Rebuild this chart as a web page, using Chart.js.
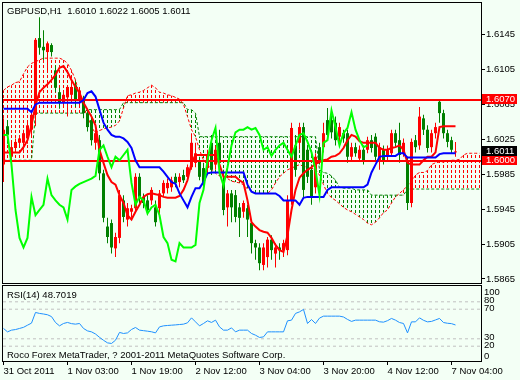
<!DOCTYPE html>
<html>
<head>
<meta charset="utf-8">
<script src="https://cdn.jsdelivr.net/npm/chart.js@4.4.1/dist/chart.umd.min.js"></script>
<style>
  html, body { margin: 0; padding: 0; background: #f3fff5; }
  #wrap { position: relative; width: 520px; height: 380px; background: #f3fff5; overflow: hidden; }
  canvas { position: absolute; left: 0; }
  #main { top: 0; width: 520px; height: 284px; }
  #rsi { top: 284px; width: 520px; height: 96px; }
</style>
</head>
<body>
<div id="wrap">
  <canvas id="main" width="520" height="284"></canvas>
  <canvas id="rsi" width="520" height="96"></canvas>
</div>
<script>
const FONT = "'Liberation Sans', Arial, sans-serif";
const BULL = "#ff0000";
const BEAR = "#008000";

const symbolTitle = "GBPUSD,H1  1.6010 1.6022 1.6005 1.6011";
const rsiTitle = "RSI(14) 48.7019";
const copyright = "Roco Forex MetaTrader, ? 2001-2011 MetaQuotes Software Corp.";

// time axis (bar index of each label)
const timeLabels = ["31 Oct 2011", "1 Nov 03:00", "1 Nov 19:00", "2 Nov 12:00", "3 Nov 04:00", "3 Nov 20:00", "4 Nov 12:00", "7 Nov 04:00"];
const timeLabelBars = [0, 16, 32, 48, 64, 80, 96, 112];

const priceTicks = [1.5865, 1.5905, 1.5945, 1.5985, 1.6025, 1.6065, 1.6105, 1.6145];
const priceLevels = [1.6070, 1.6000];
const lastPrice = 1.6011;

const rsiLevels = [20, 30, 70, 80];
const rsiTicks = [0, 20, 30, 70, 80, 100];

// H1 candles
const opens = [
	1.5996, 1.6040, 1.6005, 1.6015, 1.6021, 1.6021, 1.6026, 1.6036, 1.6053, 1.6141,
	1.6131, 1.6125, 1.6133, 1.6104, 1.6079, 1.6067, 1.6073, 1.6076, 1.6087, 1.6070,
	1.6070, 1.6055, 1.6047, 1.6021, 1.6024, 1.5986, 1.5925, 1.5929, 1.5900, 1.5912,
	1.5955, 1.5933, 1.5942, 1.5946, 1.5982, 1.5959, 1.5955, 1.5955, 1.5947, 1.5946,
	1.5963, 1.5969, 1.5970, 1.5982, 1.5976, 1.5984, 1.5982, 1.5993, 1.5998, 1.6001,
	1.5992, 1.5992, 1.6021, 1.5996, 1.6021, 1.5976, 1.5947, 1.5963, 1.5961, 1.5947,
	1.5942, 1.5946, 1.5929, 1.5906, 1.5901, 1.5881, 1.5890, 1.5910, 1.5894, 1.5901,
	1.5898, 1.5898, 1.5955, 1.6018, 1.6021, 1.6039, 1.6013, 1.5990, 1.5970, 1.6016,
	1.6016, 1.6047, 1.6047, 1.6044, 1.6028, 1.6032, 1.6032, 1.6005, 1.6016, 1.6003,
	1.6013, 1.6013, 1.6024, 1.6028, 1.6001, 1.6013, 1.6005, 1.6009, 1.6032, 1.6024,
	1.6009, 1.6001, 1.5952, 1.6024, 1.6018, 1.6049, 1.6036, 1.6016, 1.6032, 1.6068,
	1.6055, 1.6032, 1.6024, 1.6010
];
const highs = [
	1.6049, 1.6047, 1.6021, 1.6026, 1.6030, 1.6036, 1.6045, 1.6058, 1.6141, 1.6165,
	1.6150, 1.6137, 1.6135, 1.6110, 1.6084, 1.6081, 1.6087, 1.6090, 1.6092, 1.6085,
	1.6075, 1.6060, 1.6053, 1.6036, 1.6030, 1.5990, 1.5935, 1.5933, 1.5918, 1.5967,
	1.5961, 1.5952, 1.5950, 1.5986, 1.5986, 1.5963, 1.5961, 1.5970, 1.5955, 1.5967,
	1.5978, 1.5980, 1.5982, 1.5986, 1.5986, 1.5990, 1.5996, 1.6032, 1.6021, 1.6005,
	1.5998, 1.6013, 1.6030, 1.6018, 1.6036, 1.5990, 1.5967, 1.5967, 1.5967, 1.5952,
	1.5955, 1.5950, 1.5933, 1.5910, 1.5906, 1.5906, 1.5913, 1.5915, 1.5906, 1.5906,
	1.5910, 1.5961, 1.6044, 1.6030, 1.6044, 1.6044, 1.6018, 1.5996, 1.6009, 1.6021,
	1.6044, 1.6061, 1.6055, 1.6051, 1.6044, 1.6036, 1.6036, 1.6021, 1.6021, 1.6018,
	1.6018, 1.6028, 1.6030, 1.6032, 1.6021, 1.6018, 1.6018, 1.6036, 1.6036, 1.6044,
	1.6026, 1.6005, 1.6026, 1.6030, 1.6062, 1.6053, 1.6041, 1.6036, 1.6044, 1.6071,
	1.6059, 1.6036, 1.6028, 1.6022
];
const lows = [
	1.5976, 1.6020, 1.5998, 1.6010, 1.6016, 1.6013, 1.6020, 1.6030, 1.6040, 1.6122,
	1.6116, 1.6104, 1.6120, 1.6079, 1.6060, 1.6062, 1.6051, 1.6070, 1.6062, 1.6062,
	1.6049, 1.6034, 1.6018, 1.6013, 1.5978, 1.5930, 1.5906, 1.5894, 1.5890, 1.5906,
	1.5930, 1.5925, 1.5935, 1.5942, 1.5952, 1.5946, 1.5938, 1.5950, 1.5925, 1.5938,
	1.5959, 1.5963, 1.5965, 1.5970, 1.5970, 1.5975, 1.5978, 1.5990, 1.5993, 1.5978,
	1.5970, 1.5986, 1.5984, 1.5990, 1.5993, 1.5938, 1.5925, 1.5930, 1.5930, 1.5913,
	1.5935, 1.5913, 1.5894, 1.5887, 1.5875, 1.5875, 1.5878, 1.5887, 1.5878, 1.5887,
	1.5890, 1.5892, 1.5950, 1.5982, 1.6013, 1.5959, 1.5975, 1.5950, 1.5963, 1.5996,
	1.6010, 1.6024, 1.6026, 1.6018, 1.6021, 1.6021, 1.5998, 1.6001, 1.6005, 1.5999,
	1.5996, 1.6009, 1.6010, 1.5999, 1.5990, 1.5996, 1.6001, 1.6005, 1.6016, 1.5998,
	1.6005, 1.5944, 1.5947, 1.6010, 1.6013, 1.6030, 1.6010, 1.6010, 1.6026, 1.6044,
	1.6026, 1.6016, 1.6009, 1.6005
];
const closes = [
	1.6036, 1.6030, 1.6016, 1.6022, 1.6026, 1.6032, 1.6041, 1.6053, 1.6139, 1.6130,
	1.6127, 1.6135, 1.6125, 1.6084, 1.6067, 1.6076, 1.6085, 1.6085, 1.6070, 1.6081,
	1.6055, 1.6039, 1.6024, 1.6032, 1.5986, 1.5935, 1.5913, 1.5901, 1.5913, 1.5961,
	1.5936, 1.5946, 1.5946, 1.5982, 1.5959, 1.5952, 1.5944, 1.5967, 1.5930, 1.5963,
	1.5975, 1.5975, 1.5978, 1.5975, 1.5982, 1.5978, 1.5993, 1.6021, 1.6009, 1.5982,
	1.5975, 1.6007, 1.5990, 1.6013, 1.5998, 1.5944, 1.5963, 1.5947, 1.5936, 1.5935,
	1.5952, 1.5933, 1.5906, 1.5901, 1.5883, 1.5901, 1.5910, 1.5898, 1.5901, 1.5898,
	1.5906, 1.5955, 1.6038, 1.5990, 1.6039, 1.5967, 1.5982, 1.5959, 1.6005, 1.6001,
	1.6032, 1.6030, 1.6033, 1.6024, 1.6039, 1.6026, 1.6005, 1.6016, 1.6009, 1.6013,
	1.6001, 1.6024, 1.6015, 1.6005, 1.6016, 1.6001, 1.6013, 1.6032, 1.6021, 1.6007,
	1.6021, 1.5952, 1.6022, 1.6016, 1.6051, 1.6036, 1.6015, 1.6032, 1.6039, 1.6055,
	1.6032, 1.6022, 1.6013, 1.6011
];

// Ichimoku lines
const tenkan = [
	1.6010, 1.6010, 1.6010, 1.6010, 1.6010, 1.6016, 1.6024, 1.6041, 1.6064, 1.6079,
	1.6084, 1.6088, 1.6093, 1.6099, 1.6107, 1.6109, 1.6102, 1.6093, 1.6085, 1.6078,
	1.6067, 1.6059, 1.6051, 1.6041, 1.6013, 1.5998, 1.5984, 1.5976, 1.5973, 1.5961,
	1.5952, 1.5938, 1.5933, 1.5942, 1.5950, 1.5959, 1.5962, 1.5963, 1.5962, 1.5961,
	1.5959, 1.5958, 1.5958, 1.5958, 1.5960, 1.5967, 1.5978, 1.5998, 1.6007, 1.6007,
	1.6007, 1.6007, 1.6007, 1.6007, 1.5996, 1.5982, 1.5982, 1.5982, 1.5982, 1.5978,
	1.5975, 1.5955, 1.5930, 1.5925, 1.5921, 1.5919, 1.5918, 1.5912, 1.5904, 1.5898,
	1.5896, 1.5915, 1.5944, 1.5967, 1.5981, 1.5986, 1.5990, 1.5993, 1.5997, 1.5999,
	1.6001, 1.6002, 1.6005, 1.6006, 1.6009, 1.6015, 1.6024, 1.6030, 1.6028, 1.6023,
	1.6021, 1.6021, 1.6021, 1.6021, 1.6015, 1.6013, 1.6013, 1.6015, 1.6016, 1.6018,
	1.6013, 1.5998, 1.5996, 1.5996, 1.5996, 1.6001, 1.6005, 1.6005, 1.6010, 1.6039,
	1.6040, 1.6040, 1.6040, 1.6040
];
const kijun = [
	1.6060, 1.6060, 1.6060, 1.6060, 1.6060, 1.6060, 1.6060, 1.6056, 1.6065, 1.6067,
	1.6067, 1.6067, 1.6067, 1.6067, 1.6067, 1.6067, 1.6067, 1.6067, 1.6067, 1.6067,
	1.6070, 1.6078, 1.6080, 1.6074, 1.6059, 1.6044, 1.6036, 1.6030, 1.6028, 1.6028,
	1.6026, 1.6022, 1.6015, 1.6001, 1.5993, 1.5993, 1.5993, 1.5993, 1.5993, 1.5993,
	1.5988, 1.5982, 1.5976, 1.5974, 1.5963, 1.5955, 1.5947, 1.5959, 1.5969, 1.5969,
	1.5976, 1.5986, 1.5987, 1.5987, 1.5987, 1.5987, 1.5987, 1.5987, 1.5987, 1.5987,
	1.5987, 1.5973, 1.5965, 1.5963, 1.5963, 1.5963, 1.5963, 1.5963, 1.5963, 1.5960,
	1.5955, 1.5955, 1.5955, 1.5955, 1.5950, 1.5958, 1.5959, 1.5959, 1.5959, 1.5959,
	1.5959, 1.5967, 1.5970, 1.5970, 1.5970, 1.5970, 1.5970, 1.5970, 1.5970, 1.5970,
	1.5970, 1.5973, 1.5987, 1.5996, 1.6005, 1.6006, 1.6006, 1.6006, 1.6006, 1.6009,
	1.6009, 1.6004, 1.6004, 1.6004, 1.6004, 1.6004, 1.6004, 1.6004, 1.6004, 1.6008,
	1.6009, 1.6009, 1.6009, 1.6009
];
const chikou = [
	1.6030, 1.6030, 1.5996, 1.5944, 1.5912, 1.5901, 1.5912, 1.5959, 1.5938, 1.5944,
	1.5950, 1.5980, 1.5961, 1.5955, 1.5950, 1.5947, 1.5933, 1.5967, 1.5971, 1.5974,
	1.5976, 1.5978, 1.5980, 1.5983, 1.6013, 1.6018, 1.6005, 1.5993, 1.6005, 1.6001,
	1.6007, 1.6013, 1.5975, 1.5950, 1.5959, 1.5955, 1.5940, 1.5947, 1.5950, 1.5938,
	1.5913, 1.5906, 1.5887, 1.5885, 1.5906, 1.5901, 1.5901, 1.5901, 1.5904, 1.5952,
	1.5967, 1.6001, 1.6024, 1.6038, 1.5987, 1.5972, 1.5993, 1.6018, 1.6033, 1.6036,
	1.6036, 1.6039, 1.6036, 1.6038, 1.6030, 1.6013, 1.6016, 1.6006, 1.6013, 1.6018,
	1.6021, 1.6013, 1.6005, 1.6018, 1.6030, 1.6032, 1.6022, 1.6010, 1.5990, 1.5961,
	1.6021, 1.6024, 1.6058, 1.6039, 1.6018, 1.6032, 1.6038, 1.6056, 1.6036, 1.6024,
	1.6016, 1.6018
];
const spanA = [
	1.6081, 1.6085, 1.6087, 1.6090, 1.6091, 1.6100, 1.6108, 1.6112, 1.6114, 1.6116,
	1.6118, 1.6118, 1.6118, 1.6118, 1.6118, 1.6116, 1.6112, 1.6104, 1.6093, 1.6076,
	1.6062, 1.6051, 1.6039, 1.6032, 1.6035, 1.6037, 1.6038, 1.6039, 1.6041, 1.6046,
	1.6061, 1.6075, 1.6076, 1.6078, 1.6079, 1.6081, 1.6084, 1.6087, 1.6084, 1.6079,
	1.6078, 1.6076, 1.6075, 1.6073, 1.6071, 1.6065, 1.6051, 1.6036, 1.6028, 1.6013,
	1.6001, 1.5996, 1.5990, 1.5986, 1.5983, 1.5982, 1.5980, 1.5977, 1.5976, 1.5975,
	1.5973, 1.5968, 1.5966, 1.5963, 1.5963, 1.5963, 1.5963, 1.5967, 1.5975, 1.5982,
	1.5986, 1.5990, 1.5992, 1.5994, 1.5996, 1.5994, 1.5993, 1.5992, 1.5990, 1.5984,
	1.5973, 1.5963, 1.5958, 1.5955, 1.5951, 1.5947, 1.5944, 1.5942, 1.5939, 1.5936,
	1.5933, 1.5929, 1.5927, 1.5930, 1.5935, 1.5941, 1.5944, 1.5952, 1.5959, 1.5963,
	1.5967, 1.5972, 1.5976, 1.5984, 1.5987, 1.5987, 1.5989, 1.5996, 1.5998, 1.5999,
	1.5999, 1.6000, 1.6001, 1.6001, 1.6002, 1.6007, 1.6009, 1.6009, 1.6009, 1.6009
];
const spanB = [
	1.6001, 1.6001, 1.6001, 1.6001, 1.6001, 1.6001, 1.6001, 1.6001, 1.6055, 1.6055,
	1.6055, 1.6055, 1.6055, 1.6055, 1.6055, 1.6055, 1.6055, 1.6055, 1.6055, 1.6055,
	1.6055, 1.6059, 1.6059, 1.6059, 1.6059, 1.6059, 1.6059, 1.6059, 1.6059, 1.6059,
	1.6067, 1.6067, 1.6067, 1.6067, 1.6067, 1.6067, 1.6067, 1.6067, 1.6067, 1.6067,
	1.6067, 1.6067, 1.6067, 1.6067, 1.6067, 1.6067, 1.6059, 1.6059, 1.6055, 1.6028,
	1.6028, 1.6028, 1.6028, 1.6028, 1.6028, 1.6028, 1.6028, 1.6028, 1.6028, 1.6028,
	1.6028, 1.6028, 1.6028, 1.6028, 1.6028, 1.6028, 1.6028, 1.6028, 1.6028, 1.6028,
	1.6028, 1.6028, 1.6028, 1.6028, 1.6028, 1.6028, 1.6028, 1.6028, 1.6028, 1.5990,
	1.5987, 1.5986, 1.5983, 1.5978, 1.5970, 1.5969, 1.5969, 1.5969, 1.5967, 1.5967,
	1.5967, 1.5967, 1.5961, 1.5961, 1.5961, 1.5961, 1.5961, 1.5961, 1.5961, 1.5961,
	1.5961, 1.5968, 1.5968, 1.5968, 1.5968, 1.5968, 1.5968, 1.5968, 1.5968, 1.5968,
	1.5968, 1.5968, 1.5968, 1.5968, 1.5968, 1.5968, 1.5968, 1.5968, 1.5968, 1.5968
];

const rsi = [
	44.0, 39.4, 41.7, 42.5, 44.0, 45.5, 48.4, 51.2, 65.6, 64.3,
	63.5, 62.5, 60.0, 52.0, 47.5, 50.7, 52.1, 50.5, 49.8, 50.7,
	44.0, 40.7, 39.4, 36.5, 32.0, 28.0, 24.5, 23.7, 28.1, 38.6,
	37.2, 38.0, 42.6, 45.3, 41.7, 41.0, 40.3, 39.5, 38.0, 46.1,
	47.5, 48.0, 48.4, 48.8, 49.3, 49.8, 51.6, 58.3, 52.9, 47.5,
	50.7, 54.3, 52.1, 55.2, 46.1, 41.7, 41.7, 44.8, 39.4, 41.7,
	41.7, 41.7, 37.2, 34.9, 31.8, 32.6, 39.4, 39.4, 39.4, 39.4,
	39.4, 54.3, 55.2, 64.3, 66.4, 69.7, 50.7, 56.0, 50.7, 58.0,
	60.6, 60.6, 60.6, 60.6, 60.6, 59.5, 56.2, 53.5, 55.2, 55.2,
	55.2, 55.2, 55.2, 55.2, 53.0, 52.5, 54.5, 57.5, 55.2, 52.0,
	50.7, 38.0, 52.9, 52.9, 58.3, 55.0, 52.9, 53.5, 55.5, 57.5,
	52.0, 51.0, 50.5, 48.7019
];

// visible bar range (a little empty space after the last bar)
const xMin = -0.125;
const xMax = 119.375;

const series = (arr) => arr.map((v, i) => ({ x: i, y: v }));
const flat = (v) => [{ x: xMin, y: v }, { x: xMax, y: v }];
const candleColors = closes.map((c, i) => (c >= opens[i] ? BULL : BEAR));

const mainCanvas = document.getElementById("main");
const mainCtx = mainCanvas.getContext("2d");

// dotted vertical strokes, like the MT4 histogram of the cloud
const dotted = (color) => {
	const tile = document.createElement("canvas");
	tile.width = 1;
	tile.height = 5;
	const g = tile.getContext("2d");
	g.fillStyle = color;
	g.fillRect(0, 0, 1, 3);
	return mainCtx.createPattern(tile, "repeat");
};
const redDots = dotted(BULL);
const greenDots = dotted(BEAR);
const cloudColors = spanA.map((a, i) => (a >= spanB[i] ? redDots : greenDots));

const mainDecor = {
	id: "mainDecor",
	afterDraw(chart) {
		const ctx = chart.ctx;
		const yScale = chart.scales.y;
		ctx.save();
		ctx.strokeStyle = "#000";
		ctx.lineWidth = 1;
		ctx.strokeRect(2.5, 2.5, 479, 281);

		ctx.font = `9.5px ${FONT}`;
		ctx.textBaseline = "middle";
		ctx.textAlign = "left";
		ctx.fillStyle = "#000";
		ctx.fillText(symbolTitle, 7, 11);

		const priceBox = (v, bg) => {
			const py = Math.round(yScale.getPixelForValue(v));
			ctx.fillStyle = bg;
			ctx.fillRect(482, py - 6, 35, 10);
			ctx.fillStyle = "#fff";
			ctx.fillText(v.toFixed(4), 486, py - 1);
		};
		priceLevels.forEach((v) => priceBox(v, "#ff0000"));
		priceBox(lastPrice, "#000");
		ctx.restore();
	},
};

const lineSet = (label, data, color, width, order) => ({
	type: "line",
	label: label,
	data: data,
	borderColor: color,
	borderWidth: width,
	pointRadius: 0,
	tension: 0,
	fill: false,
	order: order,
});

const levelSets = priceLevels.map((v) => lineSet("level", flat(v), "#ff0000", 2, 6));

new Chart(mainCanvas, {
	type: "bar",
	data: {
		datasets: [
			{
				type: "bar",
				label: "cloud",
				data: spanA.map((a, i) => ({ x: i, y: [a, spanB[i]] })),
				backgroundColor: cloudColors,
				barThickness: 1,
				grouped: false,
				inflateAmount: 0,
				order: 11,
			},
			{
				...lineSet("Senkou Span A", series(spanA), BULL, 1, 10),
				borderDash: [3, 2],
			},
			{
				...lineSet("Senkou Span B", series(spanB), BEAR, 1, 10),
				borderDash: [3, 2],
			},
			{
				type: "bar",
				label: "wicks",
				data: lows.map((l, i) => ({ x: i, y: [l, highs[i]] })),
				backgroundColor: candleColors,
				barThickness: 1,
				grouped: false,
				inflateAmount: 0,
				order: 8,
			},
			{
				type: "bar",
				label: "bodies",
				data: opens.map((o, i) => ({ x: i, y: [o, closes[i]] })),
				backgroundColor: candleColors,
				barThickness: 3,
				minBarLength: 1,
				grouped: false,
				inflateAmount: 0,
				order: 7,
			},
			...levelSets,
			lineSet("Tenkan-sen", series(tenkan), "#ff0000", 2, 4),
			lineSet("Kijun-sen", series(kijun), "#0000ff", 2, 3),
			lineSet("Chikou Span", series(chikou), "#00ff00", 2, 2),
		],
	},
	options: {
		responsive: false,
		animation: false,
		devicePixelRatio: 1,
		events: [],
		layout: { padding: { left: 3, top: 3, right: 0, bottom: 2 } },
		plugins: { legend: { display: false }, tooltip: { enabled: false } },
		scales: {
			x: { type: "linear", min: xMin, max: xMax, offset: false, display: false },
			y: {
				position: "right",
				min: 1.586145,
				max: 1.618122,
				afterBuildTicks: (s) => {
					s.ticks = priceTicks.map((v) => ({ value: v }));
				},
				afterFit: (s) => {
					s.width = 39;
					s.paddingTop = 0;
					s.paddingBottom = 0;
				},
				grid: { drawOnChartArea: false, drawTicks: true, tickLength: 4, tickColor: "#000" },
				border: { display: false },
				ticks: {
					padding: 1,
					color: "#000",
					font: { family: FONT, size: 9.5 },
					callback: (v) => Number(v).toFixed(4),
				},
			},
		},
	},
	plugins: [mainDecor],
});

const rsiDecor = {
	id: "rsiDecor",
	afterDraw(chart) {
		const ctx = chart.ctx;
		const yScale = chart.scales.y;
		const area = chart.chartArea;
		ctx.save();
		ctx.strokeStyle = "#000";
		ctx.lineWidth = 1;
		ctx.strokeRect(2.5, 1.5, 479, 76);

		ctx.font = `9.5px ${FONT}`;
		ctx.textBaseline = "middle";
		ctx.textAlign = "left";
		ctx.fillStyle = "#000";
		ctx.fillText(rsiTitle, 7, 11);
		ctx.fillText(copyright, 7, 71);

		rsiTicks.forEach((v) => {
			let py = yScale.getPixelForValue(v) - 1;
			py = Math.min(Math.max(py, area.top + 5), area.bottom - 5);
			ctx.fillText(String(v), 484, py);
		});
		ctx.restore();
	},
};

new Chart(document.getElementById("rsi"), {
	type: "line",
	data: {
		datasets: [
			...rsiLevels.map((v) => ({
				...lineSet("level", flat(v), "#c0c0c0", 1, 5),
				borderDash: [3, 3],
			})),
			lineSet("RSI(14)", series(rsi), "#1e90ff", 1, 1),
		],
	},
	options: {
		responsive: false,
		animation: false,
		devicePixelRatio: 1,
		events: [],
		layout: { padding: { left: 3, top: 3, right: 0, bottom: 0 } },
		plugins: { legend: { display: false }, tooltip: { enabled: false } },
		scales: {
			x: {
				type: "linear",
				min: xMin,
				max: xMax,
				offset: false,
				afterBuildTicks: (s) => {
					s.ticks = timeLabelBars.map((v) => ({ value: v }));
				},
				afterFit: (s) => {
					s.height = 19;
					s.paddingLeft = 0;
					s.paddingRight = 0;
				},
				grid: { drawOnChartArea: false, drawTicks: true, tickLength: 4, tickColor: "#000" },
				border: { display: false },
				ticks: {
					align: "start",
					autoSkip: false,
					maxRotation: 0,
					padding: 1,
					color: "#000",
					font: { family: FONT, size: 9.5 },
					callback: (v) => timeLabels[timeLabelBars.indexOf(v)],
				},
			},
			y: {
				position: "right",
				min: 0,
				max: 100,
				afterBuildTicks: (s) => {
					s.ticks = rsiTicks.map((v) => ({ value: v }));
				},
				afterFit: (s) => {
					s.width = 39;
					s.paddingTop = 0;
					s.paddingBottom = 0;
				},
				grid: { display: false },
				border: { display: false },
				ticks: { display: false },
			},
		},
	},
	plugins: [rsiDecor],
});
</script>
</body>
</html>
